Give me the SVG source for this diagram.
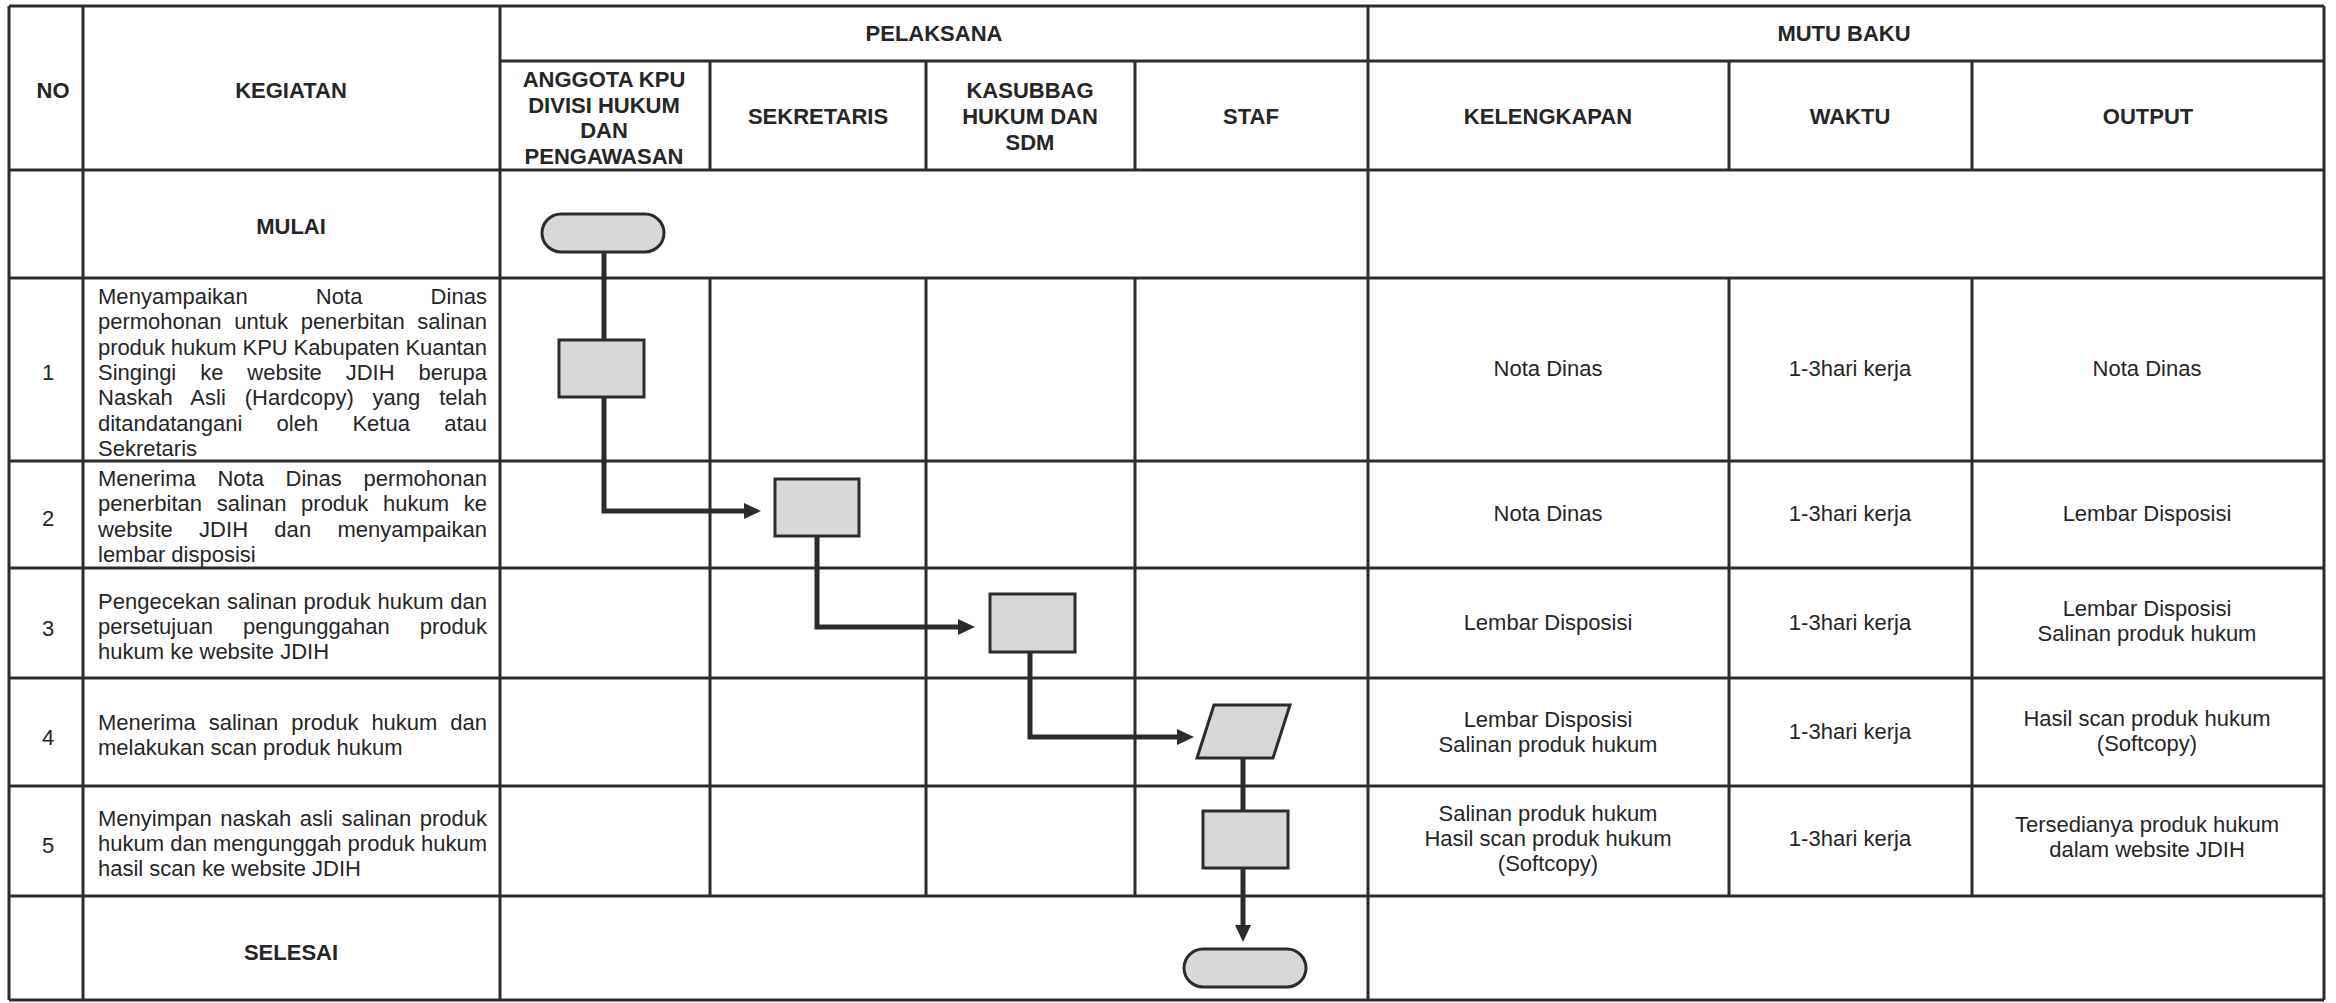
<svg xmlns="http://www.w3.org/2000/svg" width="2336" height="1003" viewBox="0 0 2336 1003">
<style>
text{font-family:"Liberation Sans",Arial,sans-serif;fill:#262626}
.h{font-size:22px;font-weight:bold;text-anchor:middle}
.n{font-size:22px;text-anchor:middle}
.c{font-size:22px;text-anchor:middle}
.k{font-size:22px}
.grid line{stroke:#2c2c2c;stroke-width:3}
.shape{fill:#d8d8da;stroke:#2c2c2c;stroke-width:3}
.conn{fill:none;stroke:#2c2c2c;stroke-width:5;stroke-linejoin:miter;stroke-linecap:butt}
</style>
<defs>
<marker id="arr" markerUnits="userSpaceOnUse" markerWidth="18" markerHeight="18" refX="0" refY="8" orient="auto">
<path d="M0,0 L17,8 L0,16 z" fill="#2c2c2c"/>
</marker>
</defs>
<rect x="0" y="0" width="2336" height="1003" fill="#ffffff"/>
<g id="grid" class="grid">
<line x1="9" y1="6" x2="2324" y2="6"/>
<line x1="500" y1="61" x2="2324" y2="61"/>
<line x1="9" y1="170" x2="2324" y2="170"/>
<line x1="9" y1="278" x2="2324" y2="278"/>
<line x1="9" y1="461" x2="2324" y2="461"/>
<line x1="9" y1="568" x2="2324" y2="568"/>
<line x1="9" y1="678" x2="2324" y2="678"/>
<line x1="9" y1="786" x2="2324" y2="786"/>
<line x1="9" y1="896" x2="2324" y2="896"/>
<line x1="9" y1="1000" x2="2324" y2="1000"/>
<line x1="9" y1="6" x2="9" y2="1000"/>
<line x1="83" y1="6" x2="83" y2="1000"/>
<line x1="500" y1="6" x2="500" y2="1000"/>
<line x1="1368" y1="6" x2="1368" y2="1000"/>
<line x1="2324" y1="6" x2="2324" y2="1000"/>
<line x1="710" y1="61" x2="710" y2="170"/>
<line x1="926" y1="61" x2="926" y2="170"/>
<line x1="1135" y1="61" x2="1135" y2="170"/>
<line x1="1729" y1="61" x2="1729" y2="170"/>
<line x1="1972" y1="61" x2="1972" y2="170"/>
<line x1="710" y1="278" x2="710" y2="896"/>
<line x1="926" y1="278" x2="926" y2="896"/>
<line x1="1135" y1="278" x2="1135" y2="896"/>
<line x1="1729" y1="278" x2="1729" y2="896"/>
<line x1="1972" y1="278" x2="1972" y2="896"/>
</g>
<g id="headers">
<text class="h" x="53" y="98">NO</text>
<text class="h" x="291" y="98">KEGIATAN</text>
<text class="h" x="934" y="41">PELAKSANA</text>
<text class="h" x="1844" y="41">MUTU BAKU</text>
<text class="h" x="604" y="87">ANGGOTA KPU</text>
<text class="h" x="604" y="112.5">DIVISI HUKUM</text>
<text class="h" x="604" y="138">DAN</text>
<text class="h" x="604" y="163.5">PENGAWASAN</text>
<text class="h" x="818" y="124">SEKRETARIS</text>
<text class="h" x="1030" y="98">KASUBBAG</text>
<text class="h" x="1030" y="124">HUKUM DAN</text>
<text class="h" x="1030" y="150">SDM</text>
<text class="h" x="1251" y="124">STAF</text>
<text class="h" x="1548" y="124">KELENGKAPAN</text>
<text class="h" x="1850" y="124">WAKTU</text>
<text class="h" x="2148" y="124">OUTPUT</text>
<text class="h" x="291" y="234">MULAI</text>
<text class="h" x="291" y="960">SELESAI</text>
</g>
<g id="numbers">
<text class="n" x="48" y="380">1</text>
<text class="n" x="48" y="526">2</text>
<text class="n" x="48" y="636">3</text>
<text class="n" x="48" y="745">4</text>
<text class="n" x="48" y="853">5</text>
</g>
<g id="kegiatan">
<text class="k" x="98" y="304" word-spacing="62" textLength="389" lengthAdjust="spacing">Menyampaikan Nota Dinas</text>
<text class="k" x="98" y="329" word-spacing="6.5" textLength="389" lengthAdjust="spacing">permohonan untuk penerbitan salinan</text>
<text class="k" x="98" y="355" textLength="389" lengthAdjust="spacing">produk hukum KPU Kabupaten Kuantan</text>
<text class="k" x="98" y="380" word-spacing="17.8" textLength="389" lengthAdjust="spacing">Singingi ke website JDIH berupa</text>
<text class="k" x="98" y="405" word-spacing="12.6" textLength="389" lengthAdjust="spacing">Naskah Asli (Hardcopy) yang telah</text>
<text class="k" x="98" y="431" word-spacing="28.2" textLength="389" lengthAdjust="spacing">ditandatangani oleh Ketua atau</text>
<text class="k" x="98" y="456">Sekretaris</text>
<text class="k" x="98" y="486" word-spacing="15.5" textLength="389" lengthAdjust="spacing">Menerima Nota Dinas permohonan</text>
<text class="k" x="98" y="511" word-spacing="8.6" textLength="389" lengthAdjust="spacing">penerbitan salinan produk hukum ke</text>
<text class="k" x="98" y="537" word-spacing="20.1" textLength="389" lengthAdjust="spacing">website JDIH dan menyampaikan</text>
<text class="k" x="98" y="562">lembar disposisi</text>
<text class="k" x="98" y="609" word-spacing="0.6" textLength="389" lengthAdjust="spacing">Pengecekan salinan produk hukum dan</text>
<text class="k" x="98" y="634" word-spacing="23.9" textLength="389" lengthAdjust="spacing">persetujuan pengunggahan produk</text>
<text class="k" x="98" y="659">hukum ke website JDIH</text>
<text class="k" x="98" y="730" word-spacing="6.8" textLength="389" lengthAdjust="spacing">Menerima salinan produk hukum dan</text>
<text class="k" x="98" y="755">melakukan scan produk hukum</text>
<text class="k" x="98" y="826" word-spacing="2.5" textLength="389" lengthAdjust="spacing">Menyimpan naskah asli salinan produk</text>
<text class="k" x="98" y="851" textLength="389" lengthAdjust="spacing">hukum dan mengunggah produk hukum</text>
<text class="k" x="98" y="876">hasil scan ke website JDIH</text>
</g>
<g id="mutu">
<text class="c" x="1548" y="376">Nota Dinas</text>
<text class="c" x="1850" y="376">1-3hari kerja</text>
<text class="c" x="2147" y="376">Nota Dinas</text>
<text class="c" x="1548" y="521">Nota Dinas</text>
<text class="c" x="1850" y="521">1-3hari kerja</text>
<text class="c" x="2147" y="521">Lembar Disposisi</text>
<text class="c" x="1548" y="630">Lembar Disposisi</text>
<text class="c" x="1850" y="630">1-3hari kerja</text>
<text class="c" x="2147" y="616">Lembar Disposisi</text>
<text class="c" x="2147" y="641">Salinan produk hukum</text>
<text class="c" x="1548" y="727">Lembar Disposisi</text>
<text class="c" x="1548" y="752">Salinan produk hukum</text>
<text class="c" x="1850" y="739">1-3hari kerja</text>
<text class="c" x="2147" y="726">Hasil scan produk hukum</text>
<text class="c" x="2147" y="751">(Softcopy)</text>
<text class="c" x="1548" y="821">Salinan produk hukum</text>
<text class="c" x="1548" y="846">Hasil scan produk hukum</text>
<text class="c" x="1548" y="871">(Softcopy)</text>
<text class="c" x="1850" y="846">1-3hari kerja</text>
<text class="c" x="2147" y="832">Tersedianya produk hukum</text>
<text class="c" x="2147" y="857">dalam website JDIH</text>
</g>
<g id="connectors">
<path class="conn" d="M604,252 V340"/>
<path class="conn" d="M604,397 V511 H744" marker-end="url(#arr)"/>
<path class="conn" d="M817,536 V627 H958" marker-end="url(#arr)"/>
<path class="conn" d="M1030,652 V737 H1177" marker-end="url(#arr)"/>
<path class="conn" d="M1243,758 V811"/>
<path class="conn" d="M1243,868 V925" marker-end="url(#arr)"/>
</g>
<g id="node-mulai"><rect class="shape" x="542" y="214" width="122" height="38" rx="19" ry="19"/></g>
<g id="node-1"><rect class="shape" x="559" y="340" width="85" height="57"/></g>
<g id="node-2"><rect class="shape" x="775" y="479" width="84" height="57"/></g>
<g id="node-3"><rect class="shape" x="990" y="594" width="85" height="58"/></g>
<g id="node-4"><polygon class="shape" points="1214,705 1290,705 1273,758 1197,758"/></g>
<g id="node-5"><rect class="shape" x="1203" y="811" width="85" height="57"/></g>
<g id="node-selesai"><rect class="shape" x="1184" y="949" width="122" height="38" rx="19" ry="19"/></g>
</svg>
